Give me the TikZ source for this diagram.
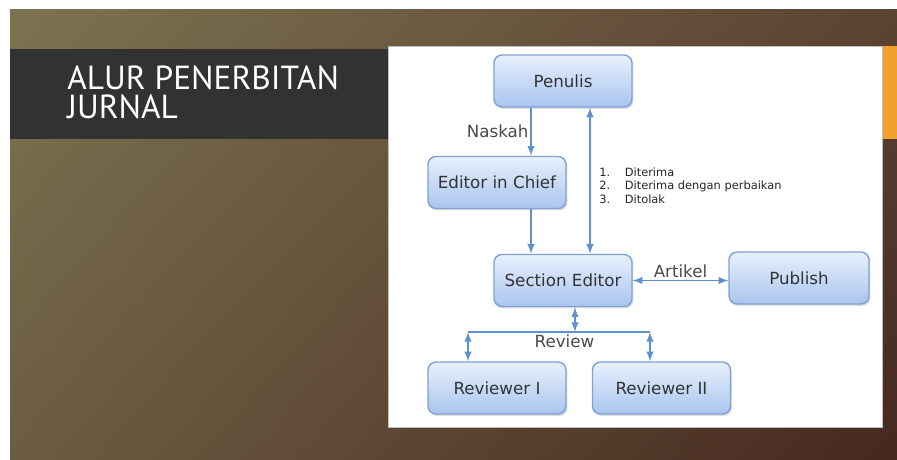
\documentclass[tikz,border=0pt]{standalone}
\usepackage{xcolor}
\usepackage{fontspec}
\setmainfont{DejaVu Sans}
\newfontfamily\titlefont{PT Sans}
\usepackage{tikz}
\usetikzlibrary{calc}
\usetikzlibrary{arrows}
\usetikzlibrary{arrows.meta}
\usetikzlibrary{shadows}
\usetikzlibrary{shadings}
\usetikzlibrary{positioning}
\definecolor{boxline}{HTML}{7FA1D4}
\definecolor{boxtop}{HTML}{E8F0FC}
\definecolor{boxbot}{HTML}{A9C5EF}
\definecolor{boxtext}{HTML}{333333}
\definecolor{flowblue}{HTML}{5F92CD}
\definecolor{lbltext}{HTML}{4A4A4A}
\definecolor{bartitle}{HTML}{323232}
\definecolor{stripe}{HTML}{F0A02E}
\definecolor{bgul}{HTML}{7C7350}
\definecolor{bgur}{HTML}{5C4232}
\definecolor{bgll}{HTML}{6C5C42}
\definecolor{bglr}{HTML}{46281E}
\tikzset{>=latex}
\tikzstyle{box} = [draw=boxline, line width=0.8pt, rounded corners=0.16cm, top color=boxtop, bottom color=boxbot, minimum width=2.76cm, minimum height=1.04cm, text=boxtext, font=\fontsize{9.5}{11}\selectfont, drop shadow={opacity=.25, shadow xshift=.03cm, shadow yshift=-.04cm}]
\tikzstyle{flow} = [draw=flowblue, line width=0.9pt]
\tikzstyle{lbl} = [draw=none, inner sep=1pt, text=lbltext, font=\fontsize{9.5}{11}\selectfont]

\begin{document}
\begin{tikzpicture}[x=0.02cm, y=-0.02cm]
\useasboundingbox (0, 0) rectangle (897, 460);
% slide background
\fill [white] (0, 0) rectangle (897, 460);
\shade [upper left=bgul, upper right=bgur, lower left=bgll, lower right=bglr] (10, 9) rectangle (897, 460);
\fill [bartitle] (10, 49) rectangle (388, 139);
\fill [stripe] (882, 46) rectangle (897, 139);
\fill [white, draw=black!25, line width=0.3pt] (388, 46) rectangle (882, 427);
\node [draw=none, inner sep=0, anchor=north west, align=left, text=white, font=\titlefont\fontsize{19}{17}\selectfont] (title) at (67, 65) {ALUR PENERBITAN\\JURNAL};
% flow chart
\node [box] (pen) at (563, 81) {Penulis};
\node [box] (eic) at (497, 182.5) {Editor in Chief};
\node [box] (sec) at (563, 280.5) {Section Editor};
\node [box, minimum width=2.8cm] (pub) at (799, 278) {Publish};
\node [box] (rv1) at (497, 388) {Reviewer I};
\node [box] (rv2) at (661.5, 388) {Reviewer II};
\node [draw=none, inner sep=0, anchor=north west, align=left, text=black!85, font=\fontsize{6.5}{7.9}\selectfont] (hasil) at (599, 167) {\makebox[14.5pt][l]{1.}Diterima\\\makebox[14.5pt][l]{2.}Diterima dengan perbaikan\\\makebox[14.5pt][l]{3.}Ditolak};
\coordinate (nx) at (531, 0);
\coordinate (kx) at (590, 0);
\coordinate (rx) at (575, 332);
\coordinate (ra) at (468, 332);
\coordinate (rb) at (650, 332);
\draw [flow, ->] (pen.south -| nx) to node [lbl, left] {Naskah} (eic.north -| nx);
\draw [flow, ->] (eic.south -| nx) to (sec.north -| nx);
\draw [flow, <->] (sec.north -| kx) to (pen.south -| kx);
\draw [flow, <->] (sec.east) to node [lbl, above] {Artikel} (sec.east -| pub.west);
\draw [flow, <->] (sec.south -| rx) to (rx);
\draw [flow] (ra) to node [lbl, below, pos=.53] {Review} (rb);
\draw [flow, <->] (ra) to (rv1.north -| ra);
\draw [flow, <->] (rb) to (rv2.north -| rb);
\end{tikzpicture}
\end{document}
